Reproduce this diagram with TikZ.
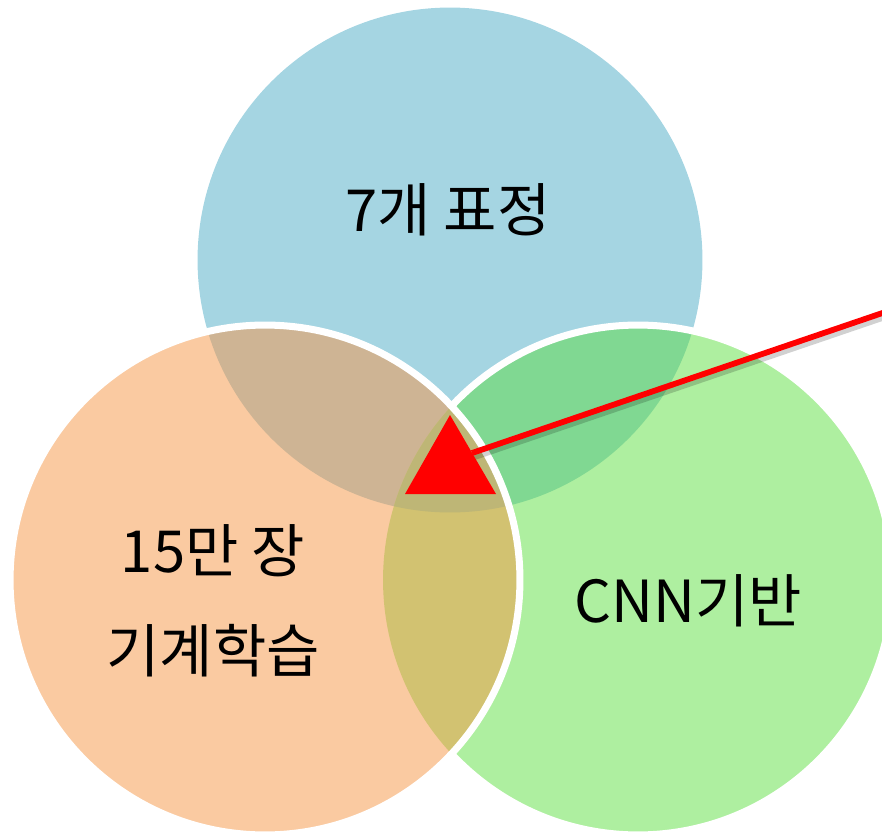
\documentclass[tikz,border=0pt]{standalone}
\usepackage{fontspec}
\newfontfamily\krfont{Noto Sans CJK KR}
\begin{document}
\begin{tikzpicture}[x=0.02cm,y=-0.02cm,
  lbl/.style={font=\krfont\fontsize{33}{56.7}\selectfont, text=black, align=center, inner sep=0pt},
  rim/.style={draw=white, line width=4pt},
  pointer/.style={draw=red, line width=3.3pt},
  pshadow/.style={draw=black, opacity=0.18, line width=3.6pt}]
\definecolor{cblue}{RGB}{165,213,226}
\definecolor{corange}{RGB}{250,202,161}
\definecolor{cgreen}{RGB}{174,239,160}
\definecolor{cbo}{RGB}{206,180,148}
\definecolor{cbg}{RGB}{128,216,146}
\definecolor{cog}{RGB}{210,194,113}
\definecolor{cbog}{RGB}{190,182,118}
\def\R{5.1cm}
\useasboundingbox (0,0) rectangle (882,832);
\coordinate (B) at (450,260);
\coordinate (O) at (265,580);
\coordinate (G) at (638,580);
% blue and green
\fill[cblue] (B) circle[radius=5.05cm];
\fill[cgreen] (G) circle[radius=\R];
\begin{scope}
  \clip (B) circle[radius=5.05cm];
  \fill[cbg] (G) circle[radius=\R];
\end{scope}
\draw[rim] (G) circle[radius=\R];
% orange on top
\fill[corange] (O) circle[radius=\R];
\begin{scope}
  \clip (O) circle[radius=\R];
  \fill[cbo] (B) circle[radius=5.05cm];
  \fill[cog] (G) circle[radius=\R];
  \clip (B) circle[radius=5.05cm];
  \fill[cbog] (G) circle[radius=\R];
\end{scope}
\draw[rim] (O) circle[radius=\R];
% pointer
\coordinate (t1) at (450,415);
\coordinate (t2) at (405,494);
\coordinate (t3) at (496,494);
\coordinate (tri) at (472,453);
\coordinate (lineend) at (900,307);
\coordinate (tris) at (474,457);
\coordinate (lineends) at (902,311);
\draw[pshadow] (tris) -- (lineends);
\fill[red] (t1) -- (t2) -- (t3) -- cycle;
\draw[pointer] (tri) -- (lineend);
% labels
\node[lbl] (top) at (448,210) {7개 표정};
\node[lbl] (left1) at (213,551) {15만 장};
\node[lbl] (left2) at (213,651) {기계학습};
\node[lbl] (right) at (688,601) {CNN기반};
\end{tikzpicture}
\end{document}
